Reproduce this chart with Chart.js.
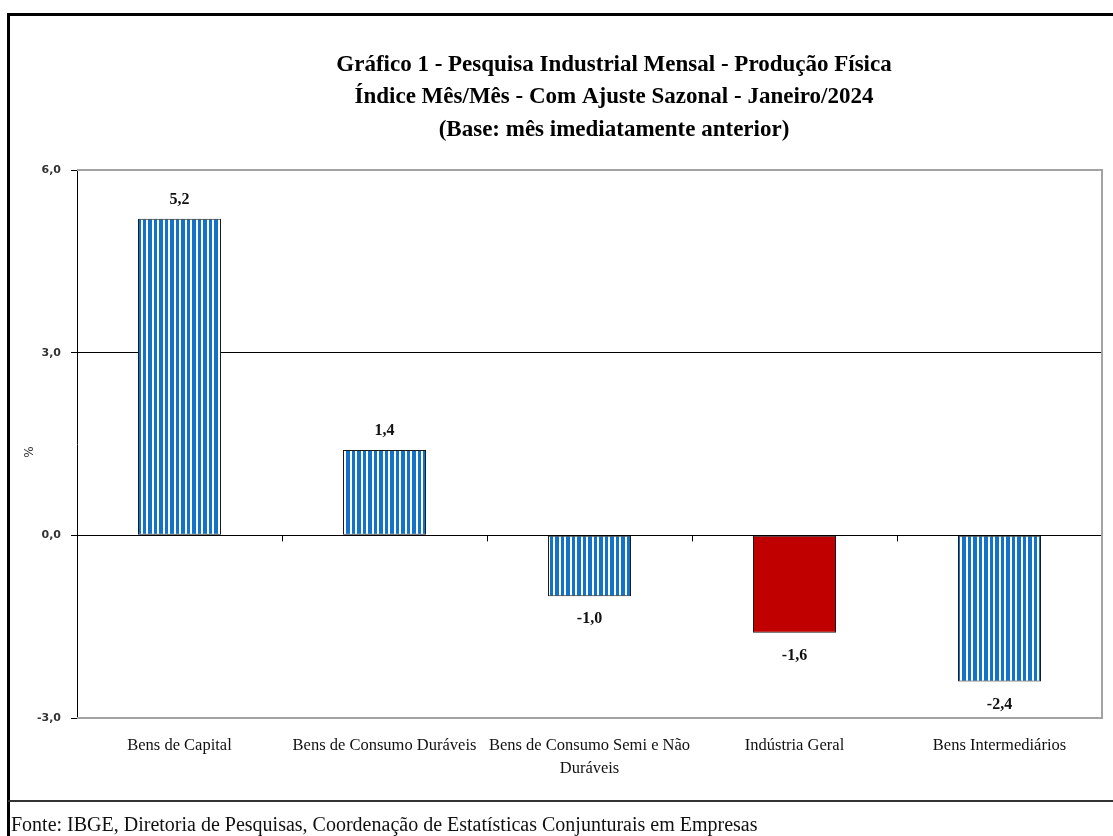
<!DOCTYPE html>
<html>
<head>
<meta charset="utf-8">
<script src="https://cdn.jsdelivr.net/npm/chart.js@4.4.1/dist/chart.umd.min.js"></script>
<style>
  html, body { margin: 0; padding: 0; background: #fff; }
  #wrap { width: 1113px; height: 836px; position: relative; }
</style>
</head>
<body>
<div id="wrap"><canvas id="chart"></canvas></div>
<script>
// dados
const categorias = [
  'Bens de Capital',
  'Bens de Consumo Duráveis',
  ['Bens de Consumo Semi e Não', 'Duráveis'],
  'Indústria Geral',
  'Bens Intermediários'
];
const valores = [5.2, 1.4, -1.0, -1.6, -2.4];
const destaque = [false, false, false, true, false];
const titulo = [
  'Gráfico 1 - Pesquisa Industrial Mensal - Produção Física',
  'Índice Mês/Mês - Com Ajuste Sazonal - Janeiro/2024',
  '(Base: mês imediatamente anterior)'
];
const fonte = 'Fonte: IBGE, Diretoria de Pesquisas, Coordenação de Estatísticas Conjunturais em Empresas';
const eixoY = { min: -3, max: 6, passo: 3 };

const fmt = v => v.toFixed(1).replace('.', ',');

// listras verticais azuis
function listras() {
  const c = document.createElement('canvas');
  c.width = 11; c.height = 4;
  const g = c.getContext('2d');
  g.fillStyle = '#fff'; g.fillRect(0, 0, 11, 4);
  g.fillStyle = '#1372c9';
  g.fillRect(0, 0, 3, 4);
  g.fillRect(5, 0, 4, 4);
  return g.createPattern(c, 'repeat');
}
const padrao = listras();

const extras = {
  id: 'extras',
  afterDatasetsDraw(chart) {
    const { ctx, chartArea: a, scales } = chart;
    ctx.save();
    // borda cinza da area de plotagem
    ctx.strokeStyle = '#a3a3a3';
    ctx.lineWidth = 2;
    ctx.beginPath();
    ctx.moveTo(a.left, a.top); ctx.lineTo(a.right, a.top);
    ctx.lineTo(a.right, a.bottom); ctx.lineTo(a.left, a.bottom);
    ctx.stroke();
    // marcas no eixo zero entre categorias
    const y0 = scales.y.getPixelForValue(0);
    const w = (a.right - a.left) / categorias.length;
    ctx.strokeStyle = '#000'; ctx.lineWidth = 1;
    ctx.beginPath();
    for (let i = 1; i < categorias.length; i++) {
      const x = Math.round(a.left + i * w) + 0.5;
      ctx.moveTo(x, y0); ctx.lineTo(x, y0 + 6);
    }
    ctx.stroke();
    // rotulos dos valores
    ctx.fillStyle = '#111';
    ctx.font = 'bold 16px "Liberation Serif"';
    ctx.textAlign = 'center'; ctx.textBaseline = 'middle';
    chart.getDatasetMeta(0).data.forEach((bar, i) => {
      const v = valores[i];
      const y = v >= 0 ? bar.y - 19 : bar.y + 23;
      ctx.fillText(fmt(v), bar.x, y);
    });
    ctx.restore();
  },
  afterDraw(chart) {
    const { ctx } = chart;
    ctx.save();
    // titulo
    ctx.fillStyle = '#000';
    ctx.font = 'bold 23px "Liberation Serif"';
    ctx.textAlign = 'center'; ctx.textBaseline = 'middle';
    titulo.forEach((t, i) => ctx.fillText(t, 614, 65 + i * 32.5));
    // titulo do eixo
    ctx.fillStyle = '#333';
    ctx.font = '12px "DejaVu Sans"';
    ctx.translate(30, 452); ctx.rotate(-Math.PI / 2);
    ctx.fillText('%', 0, 0);
    ctx.setTransform(1, 0, 0, 1, 0, 0);
    // moldura
    ctx.strokeStyle = '#000';
    ctx.lineWidth = 3;
    ctx.beginPath();
    ctx.moveTo(1120, 14.5); ctx.lineTo(8.5, 14.5); ctx.lineTo(8.5, 840);
    ctx.stroke();
    ctx.strokeStyle = '#333'; ctx.lineWidth = 2;
    ctx.beginPath();
    ctx.moveTo(8, 801); ctx.lineTo(1113, 801);
    ctx.stroke();
    // fonte
    ctx.fillStyle = '#111';
    ctx.font = '20px "Liberation Serif"';
    ctx.textAlign = 'left';
    ctx.fillText(fonte, 11, 826);
    ctx.restore();
  }
};

new Chart(document.getElementById('chart'), {
  type: 'bar',
  data: {
    labels: categorias,
    datasets: [{
      data: valores,
      backgroundColor: destaque.map(d => d ? '#c00000' : padrao),
      borderColor: '#1a1a1a',
      borderWidth: 1,
      borderSkipped: false,
      barPercentage: 0.405,
      categoryPercentage: 1
    }]
  },
  options: {
    responsive: true,
    maintainAspectRatio: false,
    animation: false,
    layout: { padding: { top: 170, right: 11, left: 0, bottom: 0 } },
    plugins: { legend: { display: false }, tooltip: { enabled: false }, title: { display: false } },
    scales: {
      x: {
        afterFit: s => { s.height = 118; },
        grid: { display: true, color: 'transparent', drawTicks: false },
        border: { display: false },
        ticks: {
          color: '#111',
          padding: 16,
          maxRotation: 0,
          autoSkip: false,
          font: { family: 'Liberation Serif', size: 16.5, lineHeight: 1.4 }
        }
      },
      y: {
        min: eixoY.min, max: eixoY.max,
        afterFit: s => { s.width = 77; },
        border: { display: true, color: '#000', width: 1 },
        grid: {
          color: c => (c.tick && (c.tick.value === 0 || c.tick.value === 3)) ? '#000' : 'transparent',
          tickColor: '#000',
          tickLength: 6,
          lineWidth: 1
        },
        ticks: {
          stepSize: eixoY.passo,
          padding: 10,
          color: '#333',
          font: { family: 'DejaVu Sans', size: 11, weight: 'bold' },
          callback: v => fmt(v)
        }
      }
    }
  },
  plugins: [extras]
});
</script>
</body>
</html>
